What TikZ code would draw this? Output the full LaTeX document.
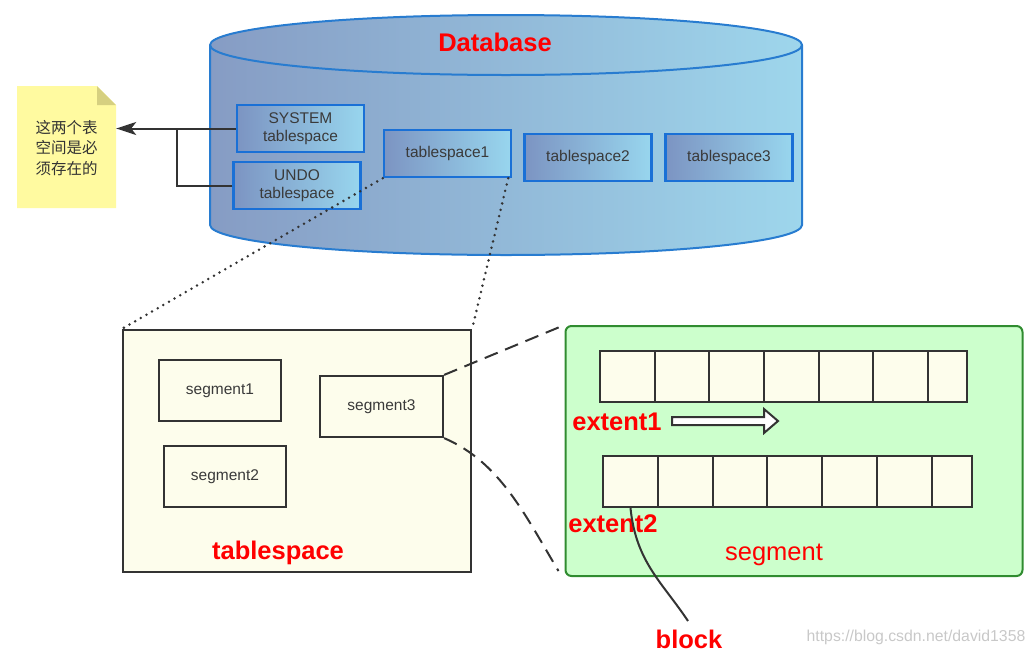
\documentclass[tikz,border=0pt]{standalone}
\usepackage{fontspec}
\setmainfont{Liberation Sans}
\newfontfamily\cjk{Noto Sans CJK SC}
\usetikzlibrary{arrows.meta}
\definecolor{dbL}{RGB}{134,156,196}
\definecolor{dbR}{RGB}{158,214,236}
\definecolor{dbB}{RGB}{40,124,208}
\definecolor{bxL}{RGB}{124,148,194}
\definecolor{bxR}{RGB}{152,214,238}
\definecolor{bxB}{RGB}{26,112,214}
\definecolor{ivory}{RGB}{253,253,236}
\definecolor{gfill}{RGB}{204,255,204}
\definecolor{gB}{RGB}{48,140,48}
\definecolor{noteY}{RGB}{255,250,160}
\definecolor{noteF}{RGB}{214,208,128}
\definecolor{ln}{RGB}{51,51,51}
\definecolor{txt}{RGB}{58,58,58}
\definecolor{lbl}{RGB}{255,0,0}
\definecolor{wm}{RGB}{200,200,200}
\begin{document}
\begin{tikzpicture}[x=1pt,y=-1pt,
  small/.style={font=\fontsize{15.5}{20}\selectfont},
  dbbox/.style={small, draw=bxB, line width=2.4pt, left color=bxL, right color=bxR,
    minimum width=127pt, minimum height=47pt, inner sep=0pt, align=center, text=txt},
  segbox/.style={small, draw=ln, line width=2.2pt, fill=ivory,
    minimum width=122pt, minimum height=61pt, inner sep=0pt, text=txt},
  cell/.style={draw=ln, line width=2.2pt, fill=ivory, minimum height=51pt, inner sep=0pt},
  redlbl/.style={text=lbl, font=\fontsize{25.5}{30}\selectfont\bfseries, anchor=base, inner sep=0pt},
  conn/.style={draw=ln, line width=2pt},
  dotline/.style={draw=ln, line width=2.8pt, line cap=round, dash pattern=on 0pt off 6.5pt},
  dashline/.style={draw=ln, line width=2pt, dash pattern=on 14pt off 8pt}]
\useasboundingbox (0,0) rectangle (1031,654);

% cylinder
\draw[draw=dbB, line width=2pt, left color=dbL, right color=dbR]
  (210,45) -- (210,225) arc[start angle=180, end angle=360, x radius=296pt, y radius=30pt]
  -- (802,45) arc[start angle=0, end angle=180, x radius=296pt, y radius=30pt] -- cycle;
\draw[dbB, line width=2pt] (210,45) arc[start angle=180, end angle=360, x radius=296pt, y radius=30pt];
\node[redlbl] (db) at (495,51) {Database};

\node[dbbox] (sys) at (300.5,128.5) {\raisebox{-1.5pt}{SYSTEM}\\tablespace};
\node[dbbox] (undo) at (297,185.5) {\raisebox{-1.5pt}{UNDO}\\tablespace};
\node[dbbox] (ts1) at (447.5,153.5) {tablespace1};
\node[dbbox] (ts2) at (588,157.5) {tablespace2};
\node[dbbox] (ts3) at (729,157.5) {tablespace3};

% note
\fill[noteY] (17,86) -- (97,86) -- (116,105) -- (116,208) -- (17,208) -- cycle;
\fill[noteF] (97,86) -- (97,105) -- (116,105) -- cycle;
\node[inner sep=0pt, minimum width=99pt, minimum height=122pt, align=center, text=ln,
  font=\cjk\fontsize{15.5}{20.5}\selectfont] (note) at (66.5,148) {这两个表\\空间是必\\须存在的};

\coordinate (br) at (177,128.5);
\draw[conn, -{Stealth[length=20pt,width=13pt,inset=5pt]}] (sys.west) -- (sys.west -| note.east);
\draw[conn] (undo.west) -| (br);

% tablespace box
\node[draw=ln, line width=2.2pt, fill=ivory, minimum width=348pt, minimum height=242pt, inner sep=0pt] (tsbox) at (297,451) {};
\node[segbox] (seg1) at (220,390.5) {segment1};
\node[segbox] (seg2) at (225,476.5) {segment2};
\node[segbox, minimum width=123pt] (seg3) at (381.5,406.5) {segment3};
\node[redlbl] (tslbl) at (278,559) {tablespace};

\draw[dotline] (ts1.south west) -- (tsbox.north west);
\draw[dotline] ([xshift=-4pt]ts1.south east) -- (tsbox.north east);

% segment box
\node[draw=gB, line width=2pt, fill=gfill, rounded corners=6pt, minimum width=457pt, minimum height=250pt, inner sep=0pt] (gbox) at (794,451) {};
\draw[dashline] (seg3.north east) -- (gbox.north west);
\draw[dashline] (seg3.south east) .. controls (500,462) and (525,515) .. ([xshift=-6pt,yshift=6pt]gbox.south west);

\foreach \a/\b [count=\i] in {600/655,655/709,709/764,764/819,819/873,873/928,928/967}
  \node[cell, minimum width={(\b-\a)*1pt}] (r1c\i) at ({(\a+\b)/2},376.5) {};
\foreach \a/\b [count=\i] in {603/658,658/713,713/767,767/822,822/877,877/932,932/972}
  \node[cell, minimum width={(\b-\a)*1pt}] (r2c\i) at ({(\a+\b)/2},481.5) {};

\node[redlbl] (ext1) at (617,430) {extent1};
\node[redlbl] (ext2) at (613,532) {extent2};
\node[redlbl, font=\fontsize{25.5}{30}\selectfont] (seglbl) at (774,560) {segment};
\draw[draw=ln, line width=2pt, fill=white, line join=miter]
  (672,417) -- (764,417) -- (764,409) -- (778,421) -- (764,433) -- (764,425) -- (672,425) -- cycle;

\node[redlbl] (blk) at (689,648) {block};
\coordinate (blktop) at (688,621);
\draw[conn] (r2c1.south) .. controls (636,562) and (662,582) .. (blktop);

\node[text=wm, font=\fontsize{15.8}{18}\selectfont, anchor=base, inner sep=0pt] (wmk) at (916,641) {https://blog.csdn.net/david1358};
\end{tikzpicture}
\end{document}
